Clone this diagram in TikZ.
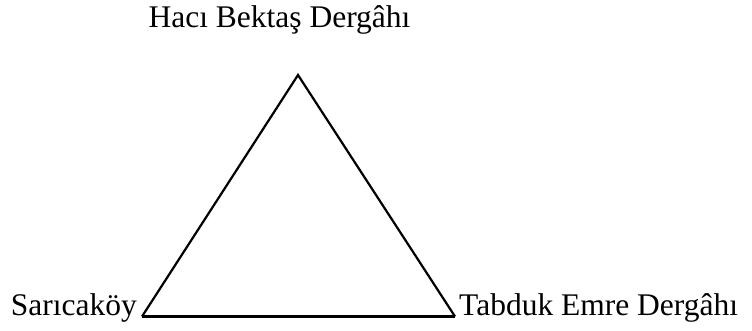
\documentclass[tikz,border=0pt]{standalone}
\usepackage{fontspec}
\setmainfont{Liberation Serif}
\begin{document}
\begin{tikzpicture}[x=1pt,y=1pt,
  lbl/.style={inner sep=0pt,font=\fontsize{31.5}{36}\selectfont},
  side/.style={line width=2.2pt,line join=miter},
  base/.style={line width=3pt}]
\useasboundingbox (0,0) rectangle (752,331);
\coordinate (A) at (298,256);
\coordinate (B) at (142,14.5);
\coordinate (C) at (455,14.5);
\draw[side] (B) -- (A) -- (C);
\draw[base] (B) -- (C);
\node[lbl,anchor=base] (top) at (279.5,303) {Hacı Bektaş Dergâhı};
\node[lbl,anchor=base east] (left) at (137,15) {Sarıcaköy};
\node[lbl,anchor=base west] (right) at (459,15) {Tabduk Emre Dergâhı};
\end{tikzpicture}
\end{document}
